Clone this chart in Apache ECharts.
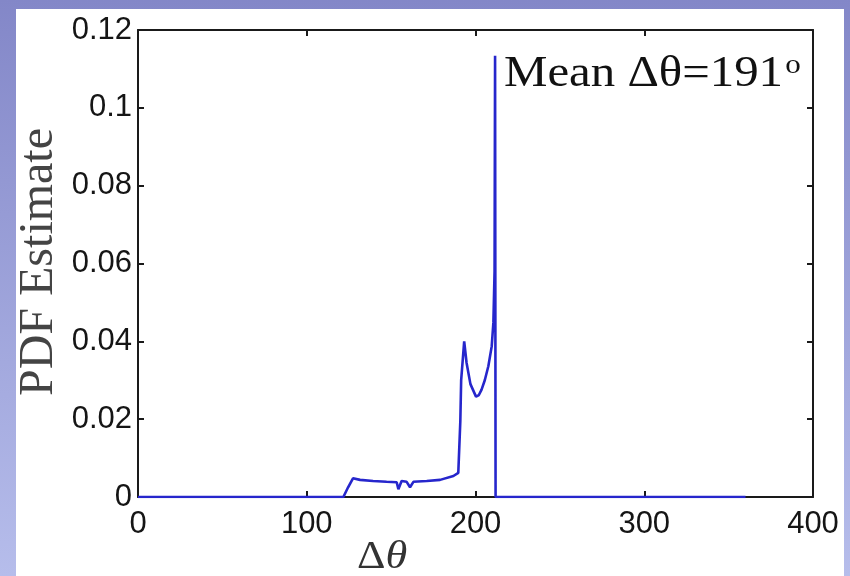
<!DOCTYPE html>
<html>
<head>
<meta charset="utf-8">
<script src="https://cdn.jsdelivr.net/npm/echarts@6/dist/echarts.min.js"></script>
<style>
  html, body { margin: 0; padding: 0; }
  #chart { width: 850px; height: 576px; }
</style>
</head>
<body>
<div id="chart"></div>
<script>
// Δθ (degrees) and PDF estimate values
const deltaTheta = [0, 121.7, 124.5, 127.4, 131.6, 139.3, 147.3, 153.3, 154.3, 156.2, 159.2, 161.2, 163.2, 171.1, 179.0, 186.9, 189.8, 190.8, 191.0, 191.5, 193.3, 194.7, 197.0, 200.3, 202.0, 203.6, 205.5, 207.6, 209.6, 210.6, 211.3, 211.6, 211.8, 211.9, 360];
const pdfEstimate = [0, 0, 0.0025, 0.0048, 0.0044, 0.0041, 0.0039, 0.0038, 0.0020, 0.0041, 0.0039, 0.0025, 0.0039, 0.0041, 0.0044, 0.0054, 0.0062, 0.0065, 0.0194, 0.0300, 0.0400, 0.0345, 0.0290, 0.0258, 0.0262, 0.0276, 0.0300, 0.0336, 0.0387, 0.0448, 0.0580, 0.1134, 0.1134, 0, 0];
const xTicks = [0, 100, 200, 300, 400];
const yTicks = [0, 0.02, 0.04, 0.06, 0.08, 0.1, 0.12];
const yAxisTitle = 'PDF Estimate';
const annotation = { text: 'Mean Δθ=191', sup: 'o' };

const chart = echarts.init(document.getElementById('chart'), null, { renderer: 'canvas' });
const seriesData = deltaTheta.map((x, i) => [x, pdfEstimate[i]]);

const axisCommon = {
  axisLine: { show: true, onZero: false, lineStyle: { color: '#1a1a1a', width: 2 } },
  axisTick: { show: true, inside: true, length: 6, lineStyle: { color: '#1a1a1a', width: 2 } },
  splitLine: { show: false }
};
const labelFont = { fontFamily: 'Liberation Sans, Arial, sans-serif', fontSize: 31, color: '#151515' };
const serif = 'Liberation Serif, Times New Roman, serif';

chart.setOption({
  animation: false,
  backgroundColor: {
    type: 'linear', x: 0, y: 0, x2: 0, y2: 1,
    colorStops: [{ offset: 0, color: '#8387c8' }, { offset: 1, color: '#b6bdeb' }]
  },
  graphic: [
    { type: 'rect', z: -10, shape: { x: 16, y: 9, width: 828, height: 580 }, style: { fill: '#ffffff' }, silent: true },
    {
      type: 'text', x: 39, y: 262, rotation: Math.PI / 2, z: 100,
      style: {
        text: yAxisTitle, fontFamily: serif, fontSize: 48, fill: '#444',
        align: 'center', verticalAlign: 'middle'
      }
    },
    {
      type: 'text', x: 504, y: 52, scaleX: 1.11, z: 100,
      style: {
        text: '{m|' + annotation.text + '}{s|' + annotation.sup + '}',
        rich: {
          m: { fontFamily: serif, fontSize: 44, fill: '#111' },
          s: { fontFamily: serif, fontSize: 28, fill: '#111', verticalAlign: 'top', padding: [0, 0, 14, 2] }
        }
      }
    },
    {
      type: 'text', x: 357, y: 537, scaleX: 1.08, z: 100,
      style: {
        text: '{a|Δ}{b|θ}',
        rich: {
          a: { fontFamily: serif, fontSize: 41, fill: '#333' },
          b: { fontFamily: serif, fontSize: 41, fontStyle: 'italic', fill: '#333' }
        }
      }
    }
  ],
  grid: { left: 138, right: 37, top: 30, bottom: 79, containLabel: false, show: false },
  xAxis: [
    Object.assign({}, axisCommon, {
      type: 'value', position: 'bottom', min: xTicks[0], max: xTicks[xTicks.length - 1], interval: 100,
      axisLabel: Object.assign({ margin: 12 }, labelFont)
    }),
    Object.assign({}, axisCommon, {
      type: 'value', position: 'top', min: xTicks[0], max: xTicks[xTicks.length - 1], interval: 100,
      axisLabel: { show: false }
    })
  ],
  yAxis: [
    Object.assign({}, axisCommon, {
      type: 'value', position: 'left', min: yTicks[0], max: yTicks[yTicks.length - 1], interval: 0.02,
      axisLabel: Object.assign({ margin: 6, formatter: v => (v === 0 ? '0' : String(+v.toFixed(2))) }, labelFont)
    }),
    Object.assign({}, axisCommon, {
      type: 'value', position: 'right', min: yTicks[0], max: yTicks[yTicks.length - 1], interval: 0.02,
      axisLabel: { show: false }
    })
  ],
  series: [{
    type: 'line',
    data: seriesData,
    xAxisIndex: 0, yAxisIndex: 0,
    showSymbol: false,
    lineStyle: { color: '#2626cc', width: 2.6 },
    z: 3
  }]
});
</script>
</body>
</html>
